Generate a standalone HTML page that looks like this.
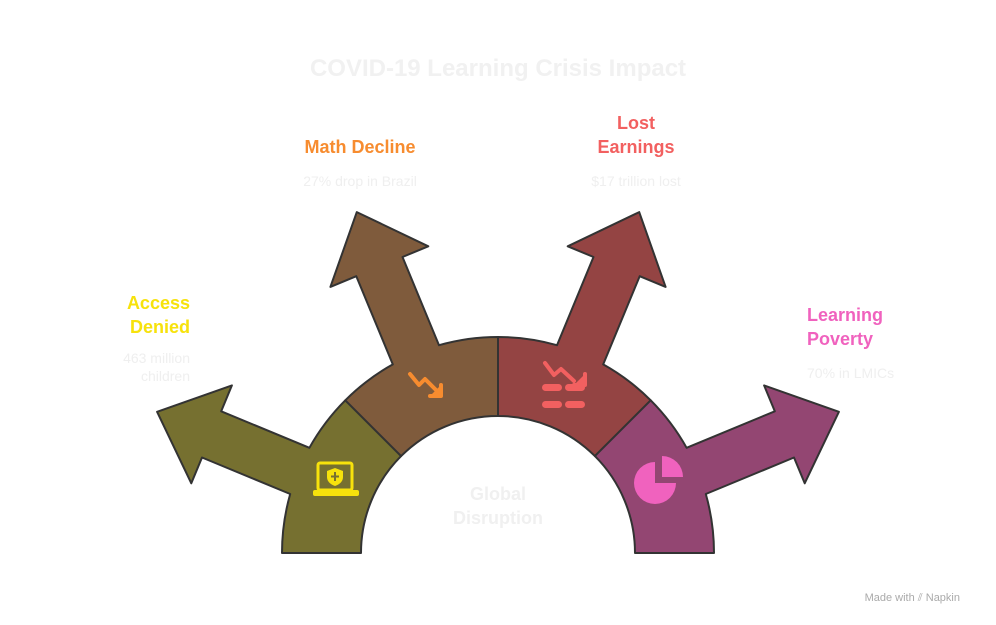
<!DOCTYPE html>
<html><head><meta charset="utf-8"><style>
body{margin:0;background:#fff;}
svg{display:block;font-family:"Liberation Sans",sans-serif;}
</style></head><body>
<svg id="c" width="996" height="625" viewBox="0 0 996 625">
<text x="498" y="76" text-anchor="middle" font-size="24" font-weight="bold" fill="#f1f1f1">COVID-19 Learning Crisis Impact</text>
<g id="segs"></g>
<g>
<text x="190" y="309" text-anchor="end" font-size="18" font-weight="bold" fill="#f7e20c"><tspan x="190">Access</tspan><tspan x="190" dy="24">Denied</tspan></text>
<text x="190" y="363" text-anchor="end" font-size="14" fill="#efefef"><tspan x="190">463 million</tspan><tspan x="190" dy="18">children</tspan></text>
<text x="360" y="153" text-anchor="middle" font-size="18" font-weight="bold" fill="#f78c2f">Math Decline</text>
<text x="360" y="186" text-anchor="middle" font-size="14" fill="#efefef">27% drop in Brazil</text>
<text x="636" y="129" text-anchor="middle" font-size="18" font-weight="bold" fill="#f26060"><tspan x="636">Lost</tspan><tspan x="636" dy="24">Earnings</tspan></text>
<text x="636" y="186" text-anchor="middle" font-size="14" fill="#efefef">$17 trillion lost</text>
<text x="807" y="321" font-size="18" font-weight="bold" fill="#f062be"><tspan x="807">Learning</tspan><tspan x="807" dy="24">Poverty</tspan></text>
<text x="807" y="378" font-size="14" fill="#efefef">70% in LMICs</text>
<text x="498" y="500" text-anchor="middle" font-size="18" font-weight="bold" fill="#f0f0f0"><tspan x="498">Global</tspan><tspan x="498" dy="24">Disruption</tspan></text>
<text x="960" y="601" text-anchor="end" font-size="11" fill="#aaa">Made with ⫽ Napkin</text>
</g>
<g>
<rect x="318" y="463" width="34" height="27" rx="2" fill="none" stroke="#f7e20c" stroke-width="3"/>
<rect x="313" y="490" width="46" height="6" rx="2" fill="#f7e20c"/>
<path d="M335 468 l8 3 v6 q0 6 -8 9 q-8 -3 -8 -9 v-6z" fill="#f7e20c"/>
<path d="M335 472 v9 M331 476.5 h8" stroke="#767030" stroke-width="2"/>
</g>
<g fill="none" stroke="#f78c2f" stroke-width="4" stroke-linecap="round" stroke-linejoin="round">
<path d="M410 374 l9 11 l6 -6 l11 11"/>
<path d="M441 385 v11 h-11" fill="#f78c2f"/>
</g>
<g>
<g fill="none" stroke="#f26060" stroke-width="4" stroke-linecap="round" stroke-linejoin="round">
<path d="M545 363 l9 12 l7 -6 l13 12"/><path d="M585 374 v11 h-11" fill="#f26060"/>
</g>
<g fill="#f26060"><rect x="542" y="384" width="20" height="7" rx="3.5"/><rect x="565" y="384" width="20" height="7" rx="3.5"/><rect x="542" y="401" width="20" height="7" rx="3.5"/><rect x="565" y="401" width="20" height="7" rx="3.5"/></g>
</g>
<g fill="#f062be">
<path d="M655 462 v21 h21 a21 21 0 1 1 -21 -21z"/>
<path d="M662 456 a21 21 0 0 1 21 21 h-21z"/>
</g>
</svg>
<script>
const segNames=['access-denied-segment','math-decline-segment','lost-earnings-segment','learning-poverty-segment'];
const segColors=['#767030','#7f5b3c','#944443','#934672'];
const cx=498,cy=553,R=216,r=137,sw=25,hw=53,hb=310,tip=369;
function P(a,d){return [cx+d*Math.cos(a),cy-d*Math.sin(a)];}
const g=document.getElementById('segs');
for(let i=0;i<4;i++){
 const a0=Math.PI-i*Math.PI/4,a1=a0-Math.PI/4,m=(a0+a1)/2;
 const ux=Math.cos(m),uy=-Math.sin(m),px=-uy,py=ux;
 const along=Math.sqrt(R*R-sw*sw);
 const pt=(t,o)=>[cx+ux*t+px*o,cy+uy*t+py*o];
 const s0=P(a0,R);
 const sgn=((s0[0]-cx)*px+(s0[1]-cy)*py)>0?1:-1;
 const e1=pt(along,sgn*sw),b1=pt(hb,sgn*sw),h1=pt(hb,sgn*hw),T=pt(tip,0),h2=pt(hb,-sgn*hw),b2=pt(hb,-sgn*sw),e2=pt(along,-sgn*sw);
 const e=P(a1,R),i1=P(a1,r),i0=P(a0,r);
 const f=v=>v[0].toFixed(1)+' '+v[1].toFixed(1);
 const d=`M${f(s0)} A${R} ${R} 0 0 1 ${f(e1)} L${f(b1)} L${f(h1)} L${f(T)} L${f(h2)} L${f(b2)} L${f(e2)} A${R} ${R} 0 0 1 ${f(e)} L${f(i1)} A${r} ${r} 0 0 0 ${f(i0)} Z`;
 const p=document.createElementNS('http://www.w3.org/2000/svg','path');
 p.setAttribute('d',d);p.setAttribute('fill',segColors[i]);p.setAttribute('stroke','#333');p.setAttribute('stroke-width','2');p.setAttribute('stroke-linejoin','round');
 
 
 g.appendChild(p);
}
</script>
</body></html>
